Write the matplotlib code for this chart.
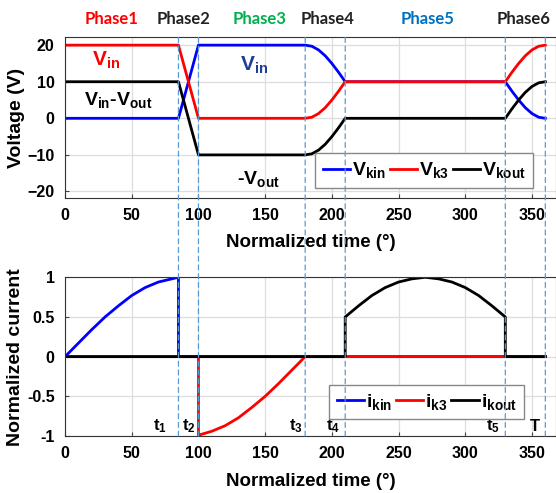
import matplotlib
matplotlib.use('Agg')
import matplotlib.pyplot as plt
from matplotlib.patches import ConnectionPatch

plt.rcParams['font.family'] = ['Liberation Sans', 'DejaVu Sans']
plt.rcParams['font.weight'] = 'bold'
plt.rcParams['mathtext.fontset'] = 'custom'
plt.rcParams['mathtext.rm'] = 'Liberation Sans:bold'
plt.rcParams['mathtext.bf'] = 'Liberation Sans:bold'
plt.rcParams['mathtext.it'] = 'Liberation Sans:bold'

# switch voltages (V) vs normalized time (deg)
v_theta = [0, 85, 100, 180, 185, 190, 195, 200, 205, 210, 330, 335, 340, 345, 350, 355, 360]
v_kin = [0, 0, 20, 20, 19.7, 18.7, 17.1, 15, 12.6, 10, 10, 7.4, 5, 2.9, 1.3, 0.3, 0]
v_k3 = [20, 20, 0, 0, 0.3, 1.3, 2.9, 5, 7.4, 10, 10, 12.6, 15, 17.1, 18.7, 19.7, 20]
v_kout = [10, 10, -10, -10, -9.7, -8.7, -7.1, -5, -2.6, 0, 0, 2.6, 5, 7.1, 8.7, 9.7, 10]

# normalized currents
ikin_theta = [0, 10, 20, 30, 40, 50, 60, 70, 80, 85, 85, 360]
i_kin = [0, 0.17, 0.34, 0.5, 0.64, 0.77, 0.87, 0.94, 0.98, 1.0, 0, 0]
ik3_theta = [0, 100, 100, 110, 120, 130, 140, 150, 160, 170, 180, 360]
i_k3 = [0, 0, -0.99, -0.94, -0.87, -0.77, -0.64, -0.5, -0.34, -0.17, 0, 0]
ikout_theta = [0, 210, 210, 220, 230, 240, 250, 260, 270, 280, 290, 300, 310, 320, 330, 330, 360]
i_kout = [0, 0, 0.5, 0.64, 0.77, 0.87, 0.94, 0.98, 1.0, 0.98, 0.94, 0.87, 0.77, 0.64, 0.5, 0, 0]

# phase boundaries and labels
boundaries = [85, 100, 180, 210, 330, 360]
phase_names = ['Phase1', 'Phase2', 'Phase3', 'Phase4', 'Phase5', 'Phase6']
phase_x = [35, 89, 146, 197, 272, 344]
phase_colors = ['#FF0000', '#222222', '#00B050', '#222222', '#0070C0', '#222222']
t_names = [r'$\mathbf{t_1}$', r'$\mathbf{t_2}$', r'$\mathbf{t_3}$', r'$\mathbf{t_4}$', r'$\mathbf{t_5}$', 'T']
t_x = [71, 93, 173, 201, 321, 352]

fig = plt.figure(figsize=(5.56, 4.93), dpi=100)
ax1 = fig.add_axes([0.117, 0.599, 0.883, 0.325])
ax2 = fig.add_axes([0.117, 0.1156, 0.883, 0.322])

lw = 2.0
ax1.plot(v_theta, v_kin, color='#0000FF', lw=lw, label=r'$\mathbf{V_{kin}}$')
ax1.plot(v_theta, v_k3, color='#FF0000', lw=lw, label=r'$\mathbf{V_{k3}}$')
ax1.plot(v_theta, v_kout, color='black', lw=lw, label=r'$\mathbf{V_{kout}}$')
ax1.set_xlim(0, 368)
ax1.set_ylim(-21.7, 22.1)
ax1.set_yticks([-20, -10, 0, 10, 20])
ax1.set_xticks(range(0, 351, 50))
ax1.set_ylabel('Voltage (V)', fontsize=14, fontweight='bold', labelpad=2)
ax1.set_xlabel('Normalized time (°)', fontsize=13.5, fontweight='bold', labelpad=8)
ax1.legend(loc='lower right', bbox_to_anchor=(0.953, 0.062), ncol=3, fontsize=14,
           handlelength=1.4, handletextpad=0.1, columnspacing=0.2, borderpad=0.38,
           borderaxespad=0, fancybox=False, edgecolor='#888888', framealpha=1)

ax1.text(31, 15.8, r'$\mathbf{V_{in}}$', color='#FF0000', fontsize=15, ha='center', va='center')
ax1.text(142, 14.6, r'$\mathbf{V_{in}}$', color='#1F3C99', fontsize=15, ha='center', va='center')
ax1.text(40, 5.0, r'$\mathbf{V_{in}}$-$\mathbf{V_{out}}$', color='black', fontsize=14, ha='center', va='center')
ax1.text(145, -16.6, r'-$\mathbf{V_{out}}$', color='black', fontsize=14, ha='center', va='center')

for name, x, c in zip(phase_names, phase_x, phase_colors):
    ax1.text(x, 1.115, name, color=c, fontsize=12, fontweight='bold', ha='center', va='center',
             transform=ax1.get_xaxis_transform(), family=['Lato', 'DejaVu Sans'])

ax2.plot(ikin_theta, i_kin, color='#0000FF', lw=lw, label=r'$\mathbf{i_{kin}}$')
ax2.plot(ik3_theta, i_k3, color='#FF0000', lw=lw, label=r'$\mathbf{i_{k3}}$')
ax2.plot(ikout_theta, i_kout, color='black', lw=lw, label=r'$\mathbf{i_{kout}}$')
ax2.set_xlim(0, 368)
ax2.set_ylim(-1, 1)
ax2.set_yticks([-1, -0.5, 0, 0.5, 1])
ax2.set_yticklabels(['-1', '-0.5', '0', '0.5', '1'])
ax2.set_xticks(range(0, 351, 50))
ax2.set_ylabel('Normalized current', fontsize=14, fontweight='bold', labelpad=2)
ax2.set_xlabel('Normalized time (°)', fontsize=13.5, fontweight='bold', labelpad=8)
ax2.legend(loc='lower right', bbox_to_anchor=(0.935, 0.105), ncol=3, fontsize=14,
           handlelength=1.4, handletextpad=0.1, columnspacing=0.2, borderpad=0.38,
           borderaxespad=0, fancybox=False, edgecolor='#888888', framealpha=1)

for name, x in zip(t_names, t_x):
    ax2.text(x, -0.88, name, color='black', fontsize=12, fontweight='bold', ha='center', va='center')

for ax in (ax1, ax2):
    ax.grid(True, color='#DDDDDD', lw=0.9)
    ax.set_axisbelow(True)
    ax.tick_params(direction='in', labelsize=11.5, length=3, color='#444444', pad=7.5)
    for lab in ax.get_xticklabels() + ax.get_yticklabels():
        lab.set_fontweight('bold')
    for sp in ax.spines.values():
        sp.set_color('#333333')
        sp.set_linewidth(0.8)

for x in boundaries:
    con = ConnectionPatch(xyA=(x, 22.1), coordsA=ax1.transData, xyB=(x, -1), coordsB=ax2.transData,
                          color='#5B9BD5', lw=0.9, linestyle=(0, (4, 3)), zorder=5)
    fig.add_artist(con)

fig.savefig('out.png', dpi=100)
